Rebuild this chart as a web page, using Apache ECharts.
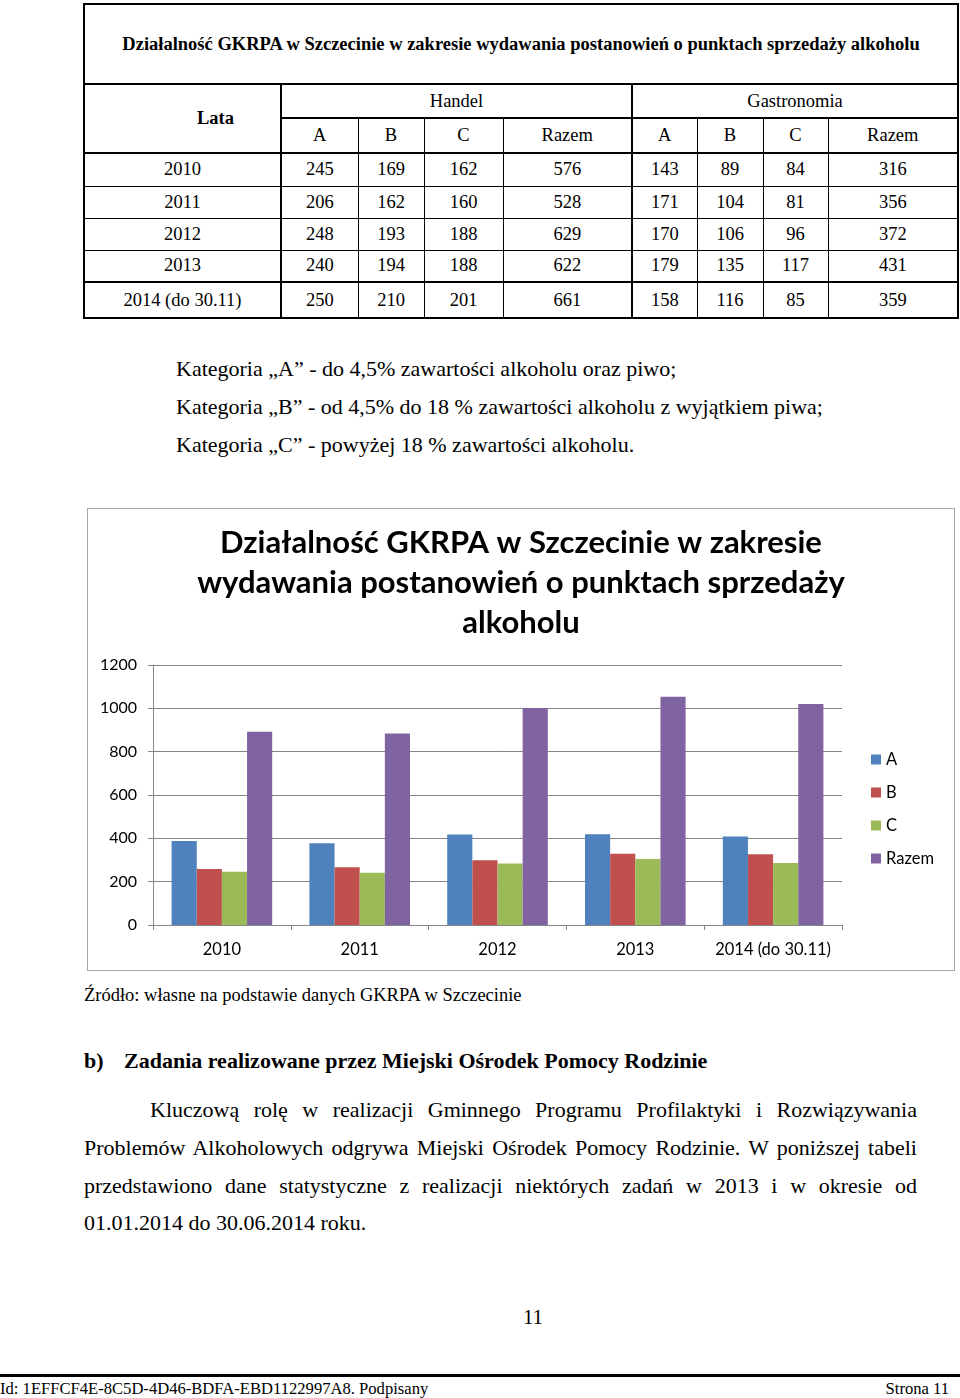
<!DOCTYPE html>
<html><head><meta charset="utf-8">
<script src="https://cdn.jsdelivr.net/npm/echarts@6/dist/echarts.min.js"></script>
<style>
html,body{margin:0;padding:0;background:#fff;}
body{width:960px;height:1398px;position:relative;overflow:hidden;font-family:"Liberation Serif","Times New Roman",serif;color:#000;}
.abs{position:absolute;white-space:nowrap;}
table.t{position:absolute;left:83px;top:3px;border-collapse:collapse;table-layout:fixed;width:874px;font-size:18.5px;}
table.t td{border:1px solid #000;text-align:center;padding:0;vertical-align:middle;}
#chartbox{position:absolute;left:87px;top:508px;width:866px;height:461px;border:1.5px solid #a6a6a6;}
#chart{width:866px;height:461px;}
.p{font-size:22px;}
.j{position:absolute;white-space:nowrap;font-size:22px;text-align:justify;text-align-last:justify;}
</style></head>
<body>
<table class="t" id="tbl"></table>

<div class="abs p" style="left:176px;top:356px;">Kategoria „A” - do 4,5% zawartości alkoholu oraz piwo;</div>
<div class="abs p" style="left:176px;top:394px;">Kategoria „B” - od 4,5% do 18 % zawartości alkoholu z wyjątkiem piwa;</div>
<div class="abs p" style="left:176px;top:432px;">Kategoria „C” - powyżej 18 % zawartości alkoholu.</div>

<div id="chartbox"><div id="chart"></div></div>

<div class="abs" style="left:84px;top:985px;font-size:18.5px;">Źródło: własne na podstawie danych GKRPA w Szczecinie</div>
<div class="abs" style="left:84px;top:1048px;font-size:22px;font-weight:bold;">b)</div>
<div class="abs" style="left:124px;top:1048px;font-size:22px;font-weight:bold;">Zadania realizowane przez Miejski Ośrodek Pomocy Rodzinie</div>
<div class="j" style="left:150px;width:767px;top:1097px;">Kluczową rolę w realizacji Gminnego Programu Profilaktyki i Rozwiązywania</div>
<div class="j" style="left:84px;width:833px;top:1135px;">Problemów Alkoholowych odgrywa Miejski Ośrodek Pomocy Rodzinie. W poniższej tabeli</div>
<div class="j" style="left:84px;width:833px;top:1173px;">przedstawiono dane statystyczne z realizacji niektórych zadań w 2013 i w okresie od</div>
<div class="abs p" style="left:84px;top:1210px;">01.01.2014 do 30.06.2014 roku.</div>

<div class="abs" style="left:0;width:1066px;text-align:center;top:1305px;font-size:21px;">11</div>
<div class="abs" style="left:0;top:1374px;width:960px;height:3px;background:#000;"></div>
<div class="abs" style="left:0;top:1379px;font-size:16.6px;">Id: 1EFFCF4E-8C5D-4D46-BDFA-EBD1122997A8. Podpisany</div>
<div class="abs" style="right:11px;top:1379px;font-size:16.6px;">Strona 11</div>

<script>
// ---- table data ----
const tableTitle = "Działalność GKRPA w Szczecinie w zakresie wydawania postanowień o punktach sprzedaży alkoholu";
const tableYears = ["2010", "2011", "2012", "2013", "2014 (do 30.11)"];
const handelA = [245, 206, 248, 240, 250];
const handelB = [169, 162, 193, 194, 210];
const handelC = [162, 160, 188, 188, 201];
const handelRazem = [576, 528, 629, 622, 661];
const gastroA = [143, 171, 170, 179, 158];
const gastroB = [89, 104, 106, 135, 116];
const gastroC = [84, 81, 96, 117, 85];
const gastroRazem = [316, 356, 372, 431, 359];

// ---- chart data ----
const chartTitle = "Działalność GKRPA w Szczecinie w zakresie\nwydawania postanowień o punktach sprzedaży\nalkoholu";
const categories = ["2010", "2011", "2012", "2013", "2014 (do 30.11)"];
const seriesNames = ["A", "B", "C", "Razem"];
const valuesA = [388, 377, 418, 419, 408];
const valuesB = [258, 266, 299, 329, 326];
const valuesC = [246, 241, 284, 305, 286];
const valuesRazem = [892, 884, 1001, 1053, 1020];
const colors = ["#4F81BD", "#C0504D", "#9BBB59", "#8064A2"];

// build table
const colW = [197, 77, 66, 79, 129, 65, 66, 65, 130];
const rowH = [33, 32, 32, 32, 36];
const T = "2px solid #000";
let h = '<colgroup>' + colW.map(w => '<col style="width:' + w + 'px">').join('') + '</colgroup>';
h += '<tr style="height:80px"><td colspan="9" style="border:' + T + ';font-weight:bold;">' + tableTitle + '</td></tr>';
h += '<tr style="height:34px"><td rowspan="2" style="border-left:' + T + ';border-right:' + T + ';border-bottom:' + T + ';font-weight:bold;padding-left:66px;">Lata</td>' +
     '<td colspan="4" style="border-bottom:' + T + ';border-right:' + T + ';">Handel</td>' +
     '<td colspan="4" style="border-bottom:' + T + ';border-right:' + T + ';">Gastronomia</td></tr>';
h += '<tr style="height:35px">';
["A","B","C","Razem","A","B","C","Razem"].forEach((s, i) => {
  let st = 'border-bottom:' + T + ';';
  if (i === 3 || i === 7) st += 'border-right:' + T + ';';
  h += '<td style="' + st + '">' + s + '</td>';
});
h += '</tr>';
tableYears.forEach((y, r) => {
  const vals = [handelA[r], handelB[r], handelC[r], handelRazem[r], gastroA[r], gastroB[r], gastroC[r], gastroRazem[r]];
  let top = r === 4 ? 'border-top:' + T + ';' : '';
  let bot = r === 4 ? 'border-bottom:' + T + ';' : '';
  h += '<tr style="height:' + rowH[r] + 'px"><td style="border-left:' + T + ';border-right:' + T + ';' + top + bot + '">' + y + '</td>';
  vals.forEach((v, i) => {
    let st = top + bot;
    if (i === 3 || i === 7) st += 'border-right:' + T + ';';
    h += '<td style="' + st + '">' + v + '</td>';
  });
  h += '</tr>';
});
document.getElementById('tbl').innerHTML = h;

// chart
const chart = echarts.init(document.getElementById('chart'), null, {renderer: 'canvas'});
const fontF = 'Lato, "Open Sans", sans-serif';
const seriesVals = [valuesA, valuesB, valuesC, valuesRazem];
chart.setOption({
  animation: false,
  color: colors,
  graphic: [{
    type: 'text', x: 433, y: 14, z: 10,
    style: {
      text: chartTitle, textAlign: 'center', textVerticalAlign: 'top',
      fontFamily: fontF, fontSize: 31, fontWeight: 'bold', fill: '#000', lineHeight: 40
    }
  }],
  legend: {
    orient: 'vertical', left: 778, top: 237,
    itemWidth: 10, itemHeight: 10, itemGap: 16,
    icon: 'rect',
    textStyle: {fontFamily: fontF, fontSize: 16.5, color: '#000'},
    data: seriesNames
  },
  grid: {left: 65, right: 112, top: 156, bottom: 45},
  xAxis: {
    type: 'category', data: categories,
    axisLine: {lineStyle: {color: '#868686', width: 1}},
    axisTick: {show: true, length: 5, lineStyle: {color: '#868686'}},
    axisLabel: {fontFamily: fontF, fontSize: 16.5, color: '#000', margin: 16, interval: 0}
  },
  yAxis: {
    type: 'value', min: 0, max: 1200, interval: 200,
    axisLine: {show: true, lineStyle: {color: '#868686', width: 1}},
    axisTick: {show: true, length: 5, lineStyle: {color: '#868686'}},
    splitLine: {lineStyle: {color: '#868686', width: 1}},
    axisLabel: {fontFamily: fontF, fontSize: 16, color: '#000', margin: 16, formatter: v => String(v)}
  },
  series: seriesNames.map((n, i) => ({
    name: n, type: 'bar', data: seriesVals[i],
    barGap: '0%', barCategoryGap: '27%'
  }))
});
</script>
</body></html>
